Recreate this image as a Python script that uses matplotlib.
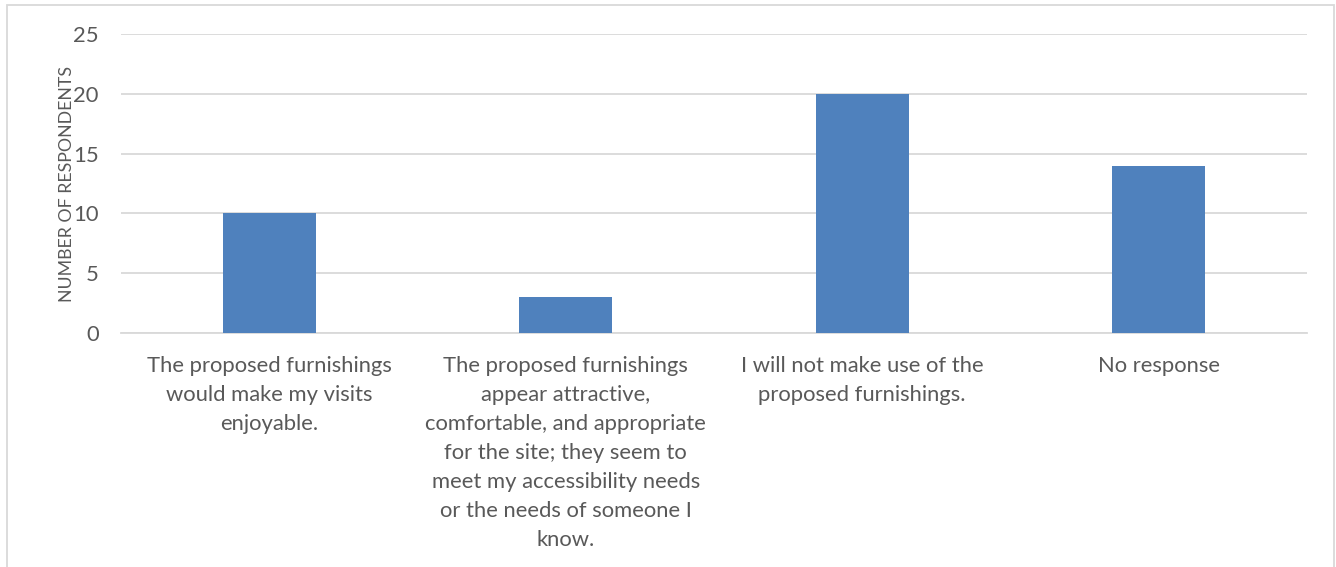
import matplotlib
matplotlib.use("Agg")
import matplotlib.pyplot as plt
from matplotlib.patches import Rectangle

categories = [
    "The proposed furnishings\nwould make my visits\nenjoyable.",
    "The proposed furnishings\nappear attractive,\ncomfortable, and appropriate\nfor the site; they seem to\nmeet my accessibility needs\nor the needs of someone I\nknow.",
    "I will not make use of the\nproposed furnishings.",
    "No response",
]
values = [10, 3, 20, 14]
yticks = [0, 5, 10, 15, 20, 25]

plt.rcParams['font.family'] = ['Lato', 'DejaVu Sans']
txt = '#595959'

fig = plt.figure(figsize=(13.36, 5.67), dpi=100)
ax = fig.add_axes([121 / 1336, 1 - 333 / 567, (1307 - 121) / 1336, (333 - 34) / 567])

x = range(len(categories))
ax.bar(x, values, width=0.315, color='#4f81bd', zorder=3)

ax.set_xlim(-0.5, len(categories) - 0.5)
ax.set_ylim(0, 25)
ax.set_yticks(yticks)
ax.yaxis.grid(True, color='#d9d9d9', linewidth=1.3, zorder=0)
ax.set_xticks(list(x))
ax.set_xticklabels(categories, fontsize=15.8, color=txt, linespacing=1.56, va='top')
ax.tick_params(axis='x', length=0, pad=16.5)
ax.tick_params(axis='y', length=0, labelsize=15.8, labelcolor=txt, pad=16)
for s in ['top', 'right', 'left']:
    ax.spines[s].set_visible(False)
ax.spines['bottom'].set_color('#d9d9d9')
ax.spines['bottom'].set_linewidth(1.3)
ax.set_ylabel("NUMBER OF RESPONDENTS", fontsize=12.8, color=txt)
ax.yaxis.set_label_coords(-46 / 1186, 0.5)

# chart border
fig.patches.append(Rectangle((7 / 1336, -0.05), 1327 / 1336, 1.05 - 5 / 567,
                             transform=fig.transFigure, fill=False,
                             edgecolor='#d9d9d9', linewidth=1.3))

fig.savefig('out.png', dpi=100)
